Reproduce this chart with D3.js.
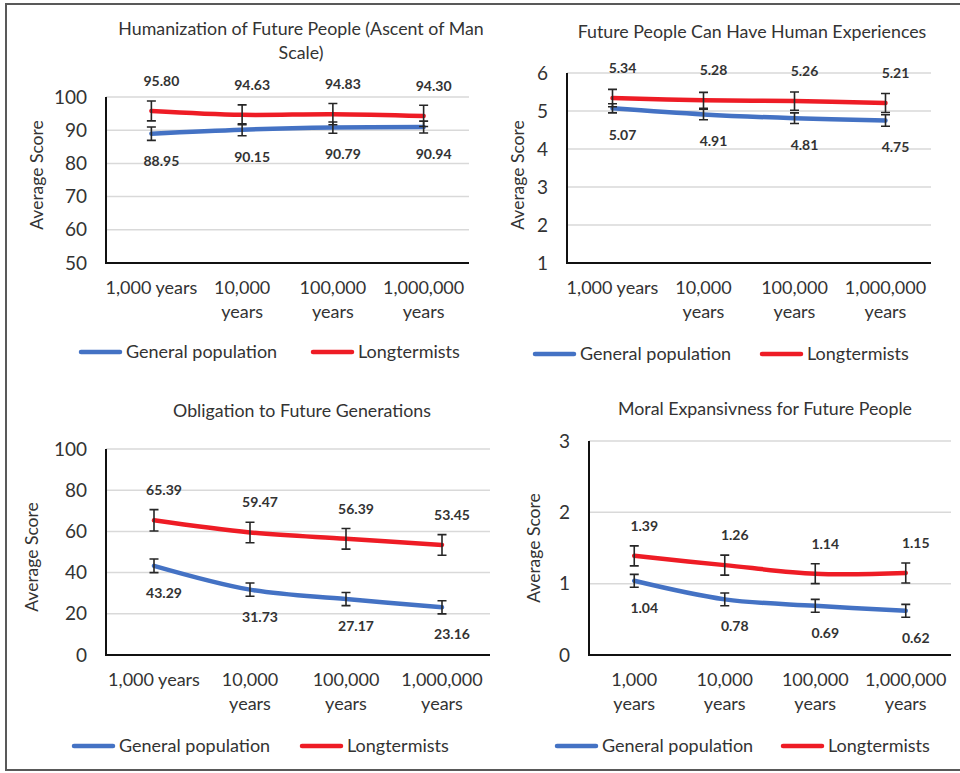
<!DOCTYPE html>
<html>
<head>
<meta charset="utf-8">
<script src="https://cdn.jsdelivr.net/npm/d3@7"></script>
<style>
  body { margin: 0; background: #fff; }
  svg { display: block; font-family: Lato, "Open Sans", sans-serif; }
</style>
</head>
<body>
<svg id="chart" width="960" height="773"></svg>
<script>
// data
const seriesNames = ["General population", "Longtermists"];
const seriesColors = ["#4472C4", "#EE1C25"];

// category labels, wrapped two ways
const catWide = [["1,000 years"], ["10,000", "years"], ["100,000", "years"], ["1,000,000", "years"]];
const catNarrow = [["1,000", "years"], ["10,000", "years"], ["100,000", "years"], ["1,000,000", "years"]];

// Humanization (Ascent of Man)
const humanGen = [88.95, 90.15, 90.79, 90.94];
const humanLong = [95.80, 94.63, 94.83, 94.30];
const humanGenErr = [2.0, 1.8, 1.7, 1.8];
const humanLongErr = [3.0, 3.0, 3.2, 3.2];
const humanTicks = [50, 60, 70, 80, 90, 100];

// Human experiences
const experGen = [5.07, 4.91, 4.81, 4.75];
const experLong = [5.34, 5.28, 5.26, 5.21];
const experGenErr = [0.12, 0.14, 0.14, 0.15];
const experLongErr = [0.23, 0.21, 0.24, 0.25];
const experTicks = [1, 2, 3, 4, 5, 6];

// Obligation
const obligGen = [43.29, 31.73, 27.17, 23.16];
const obligLong = [65.39, 59.47, 56.39, 53.45];
const obligGenErr = [3.3, 3.2, 3.2, 3.2];
const obligLongErr = [5.2, 5.0, 5.0, 5.0];
const obligTicks = [0, 20, 40, 60, 80, 100];

// Moral expansiveness
const moralGen = [1.04, 0.78, 0.69, 0.62];
const moralLong = [1.39, 1.26, 1.14, 1.15];
const moralGenErr = [0.09, 0.09, 0.09, 0.09];
const moralLongErr = [0.14, 0.14, 0.14, 0.14];
const moralTicks = [0, 1, 2, 3];

// layout of each panel
const panels = [
  {title: ["Humanization of Future People (Ascent of Man", "Scale)"], titleX: 301, titleY: 35,
   left: 106, right: 469, top: 97, bottom: 263, ticks: humanTicks, cats: catWide,
   gen: humanGen, long: humanLong, genErr: humanGenErr, longErr: humanLongErr,
   yTitleX: 37, yTitleY: 175, xLabY: 294, legendY: 352, legendX: [79, 311]},
  {title: ["Future People Can Have Human Experiences"], titleX: 752, titleY: 38,
   left: 567, right: 931, top: 73, bottom: 263, ticks: experTicks, cats: catWide,
   gen: experGen, long: experLong, genErr: experGenErr, longErr: experLongErr,
   yTitleX: 518, yTitleY: 175, xLabY: 294, legendY: 354, legendX: [533, 760]},
  {title: ["Obligation to Future Generations"], titleX: 302, titleY: 417,
   left: 106, right: 490, top: 449, bottom: 655, ticks: obligTicks, cats: catWide,
   gen: obligGen, long: obligLong, genErr: obligGenErr, longErr: obligLongErr,
   yTitleX: 32, yTitleY: 557, xLabY: 686, legendY: 746, legendX: [72, 300]},
  {title: ["Moral Expansivness for Future People"], titleX: 765, titleY: 415,
   left: 589, right: 951, top: 441, bottom: 655, ticks: moralTicks, cats: catNarrow,
   gen: moralGen, long: moralLong, genErr: moralGenErr, longErr: moralLongErr,
   yTitleX: 534, yTitleY: 548, xLabY: 686, legendY: 746, legendX: [555, 781]}
];

const textColor = "#333";
const svg = d3.select("#chart");

// outer frame
svg.append("path")
  .attr("d", "M960,4 H6 V770 H960")
  .attr("fill", "none")
  .attr("stroke", "#595959")
  .attr("stroke-width", 2);

panels.forEach(function(p) {
  const g = svg.append("g");
  const x = d3.scaleBand().domain(d3.range(p.cats.length)).range([p.left, p.right]);
  const y = d3.scaleLinear().domain(d3.extent(p.ticks)).range([p.bottom, p.top]);
  const cx = function(i) { return x(i) + x.bandwidth() / 2; };

  // title
  const t = g.append("text")
    .attr("x", p.titleX)
    .attr("y", p.titleY)
    .attr("text-anchor", "middle")
    .attr("fill", textColor)
    .style("font-size", "17.8px");
  p.title.forEach(function(line, i) {
    t.append("tspan").attr("x", p.titleX).attr("dy", i ? 24 : 0).text(line);
  });

  // gridlines
  g.append("g").selectAll("line")
    .data(p.ticks.slice(1))
    .enter().append("line")
    .attr("x1", p.left).attr("x2", p.right)
    .attr("y1", d => y(d)).attr("y2", d => y(d))
    .attr("stroke", "#d9d9d9").attr("stroke-width", 1.5);

  // y axis labels
  g.append("g").selectAll("text")
    .data(p.ticks)
    .enter().append("text")
    .attr("x", p.left - 19)
    .attr("y", d => y(d))
    .attr("dy", "0.35em")
    .attr("text-anchor", "end")
    .attr("fill", textColor)
    .style("font-size", "19px")
    .text(d => d);

  // axes
  g.append("path")
    .attr("d", `M${p.left},${p.top} V${p.bottom} H${p.right}`)
    .attr("fill", "none")
    .attr("stroke", "#111")
    .attr("stroke-width", 2);

  // y title
  g.append("text")
    .attr("transform", `translate(${p.yTitleX},${p.yTitleY}) rotate(-90)`)
    .attr("dy", "0.35em")
    .attr("text-anchor", "middle")
    .attr("fill", textColor)
    .style("font-size", "17.5px")
    .text("Average Score");

  // x labels
  p.cats.forEach(function(lines, i) {
    const xt = g.append("text")
      .attr("x", cx(i))
      .attr("y", p.xLabY)
      .attr("text-anchor", "middle")
      .attr("fill", textColor)
      .style("font-size", "18px");
    lines.forEach(function(l, j) {
      xt.append("tspan").attr("x", cx(i)).attr("dy", j ? 24 : 0).text(l);
    });
  });

  // series
  const line = d3.line()
    .x((d, i) => cx(i))
    .y(d => y(d))
    .curve(d3.curveCardinal.tension(0));

  const sets = [
    {vals: p.gen, err: p.genErr, color: seriesColors[0], labelDy: 27},
    {vals: p.long, err: p.longErr, color: seriesColors[1], labelDy: -30}
  ];

  sets.forEach(function(s) {
    g.append("path")
      .attr("d", line(s.vals))
      .attr("fill", "none")
      .attr("stroke", s.color)
      .attr("stroke-width", 4.5)
      .attr("stroke-linecap", "round");
  });

  sets.forEach(function(s) {
    const eb = g.append("g").attr("stroke", "#262626").attr("stroke-width", 1.6);
    s.vals.forEach(function(v, i) {
      const x0 = cx(i), y1 = y(v + s.err[i]), y2 = y(v - s.err[i]);
      eb.append("path")
        .attr("d", `M${x0},${y1} V${y2} M${x0 - 4.5},${y1} H${x0 + 4.5} M${x0 - 4.5},${y2} H${x0 + 4.5}`)
        .attr("fill", "none");
    });
  });

  sets.forEach(function(s) {
    g.append("g").selectAll("text")
      .data(s.vals)
      .enter().append("text")
      .attr("x", (d, i) => cx(i) + 10)
      .attr("y", d => y(d) + s.labelDy)
      .attr("dy", "0.35em")
      .attr("text-anchor", "middle")
      .attr("fill", textColor)
      .style("font-size", "14px")
      .style("font-weight", "bold")
      .text(d => d3.format(".2f")(d));
  });

  // legend
  seriesNames.forEach(function(name, i) {
    const lx = p.legendX[i];
    g.append("line")
      .attr("x1", lx + 2).attr("x2", lx + 41)
      .attr("y1", p.legendY).attr("y2", p.legendY)
      .attr("stroke", seriesColors[i])
      .attr("stroke-width", 4.5)
      .attr("stroke-linecap", "round");
    g.append("text")
      .attr("x", lx + 47)
      .attr("y", p.legendY)
      .attr("dy", "0.35em")
      .attr("fill", textColor)
      .style("font-size", "18px")
      .text(name);
  });
});
</script>
</body>
</html>
